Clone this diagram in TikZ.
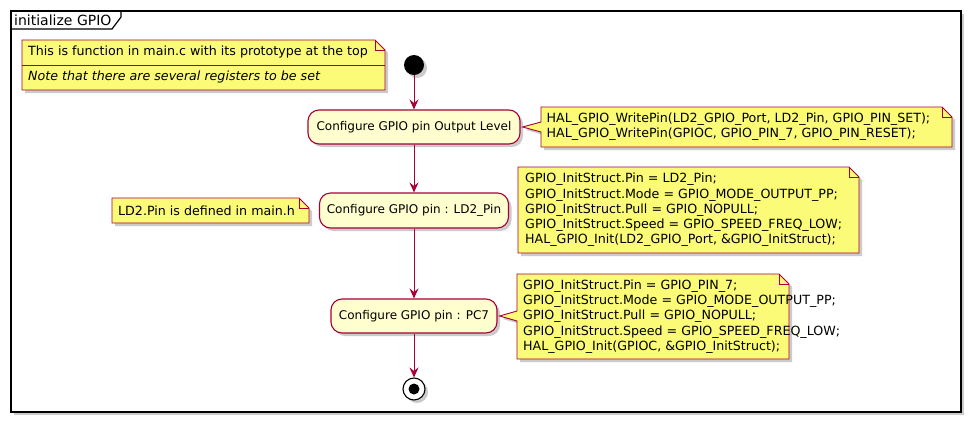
\documentclass[tikz,border=0pt]{standalone}
\usepackage{fontspec}
\setmainfont{DejaVu Sans}
\usetikzlibrary{arrows.meta,shadows,calc}
\definecolor{umlred}{HTML}{A80036}
\definecolor{actfill}{HTML}{FEFECE}
\definecolor{notefill}{HTML}{FBFB77}
\begin{document}
\begin{tikzpicture}[x=1pt,y=-1pt,
  shad/.style={drop shadow={shadow xshift=3pt,shadow yshift=-3pt,fill=black!45,opacity=.45}},
  act/.style={draw=umlred,fill=actfill,line width=1.1pt,rounded corners=11pt,inner sep=0pt,
    font=\fontsize{12}{14}\selectfont,shad},
  notebox/.style={draw=umlred,fill=notefill,line width=0.9pt,shad},
  notefold/.style={draw=umlred,line width=0.9pt},
  notetext/.style={inner sep=0pt,align=left,font=\fontsize{12.65}{15.2}\selectfont},
  flow/.style={draw=umlred,line width=1pt,-{Stealth[length=10pt,width=9pt,inset=3.5pt]}},
]
\useasboundingbox (0,0) rectangle (977,429);
% frame
\path[draw=black,fill=white,line width=1.5pt,shad] (11,11) rectangle (961,412);
\draw[line width=1.2pt] (11,29) -- (112,29) -- (121,17) -- (121,11);
\node[anchor=west,inner sep=0pt,font=\fontsize{14}{16}\selectfont] (title) at (14,20) {initialize GPIO};

% note 1 (two compartments)
\path[notebox] (22,40) -- (375,40) -- (385,50) -- (385,90) -- (22,90) -- cycle;
\draw[notefold] (375,40) -- (375,50) -- (385,50);
\draw[notefold] (22,65) -- (385,65);
\node[notetext,anchor=west] (n1a) at (28,52.5) {This is function in main.c with its prototype at the top};
\node[notetext,anchor=west,font=\fontsize{12.65}{15.2}\selectfont\itshape] (n1b) at (28,77.5) {Note that there are several registers to be set};

% start
\node[circle,fill=black,minimum size=20pt,inner sep=0pt,shad] (start) at (414,65) {};

% actions
\node[act,minimum width=212pt,minimum height=34pt] (a1) at (414,127) {Configure GPIO pin Output Level};
\node[act,minimum width=189pt,minimum height=35pt] (a2) at (414,210.5) {Configure GPIO pin : LD2\_Pin};
\node[act,minimum width=166pt,minimum height=34pt] (a3) at (414,316) {Configure GPIO pin : PC7};

% end
\node[circle,draw=black,fill=white,line width=1.1pt,minimum size=22pt,inner sep=0pt,shad] (stop) at (414,389) {};
\node[circle,fill=black,minimum size=11pt,inner sep=0pt] (stopdot) at (stop.center) {};

% flows
\draw[flow] (start) -- (a1);
\draw[flow] (a1) -- (a2);
\draw[flow] (a2) -- (a3);
\draw[flow] (a3) -- (stop);

% note 2 with pointer to a1
\coordinate (p2) at ($(a1.east)+(2,0)$);
\path[notebox] (541,107) -- (942,107) -- (952,117) -- (952,147) -- (541,147) -- (541,132) -- (p2) -- (541,122) -- cycle;
\draw[notefold] (942,107) -- (942,117) -- (952,117);
\node[notetext,anchor=west] (n2) at (546.5,127) {HAL\_GPIO\_WritePin(LD2\_GPIO\_Port, LD2\_Pin, GPIO\_PIN\_SET);\\HAL\_GPIO\_WritePin(GPIOC, GPIO\_PIN\_7, GPIO\_PIN\_RESET);};

% note 3 (left of a2)
\path[notebox] (112,198) -- (299,198) -- (309,208) -- (309,223) -- (112,223) -- cycle;
\draw[notefold] (299,198) -- (299,208) -- (309,208);
\node[notetext,anchor=west] (n3) at (118,210.5) {LD2.Pin is defined in main.h};

% note 4 (right of a2)
\path[notebox] (518,167) -- (849,167) -- (859,177) -- (859,253) -- (518,253) -- cycle;
\draw[notefold] (849,167) -- (849,177) -- (859,177);
\node[notetext,anchor=west] (n4) at (525,210) {GPIO\_InitStruct.Pin = LD2\_Pin;\\GPIO\_InitStruct.Mode = GPIO\_MODE\_OUTPUT\_PP;\\GPIO\_InitStruct.Pull = GPIO\_NOPULL;\\GPIO\_InitStruct.Speed = GPIO\_SPEED\_FREQ\_LOW;\\HAL\_GPIO\_Init(LD2\_GPIO\_Port, \&GPIO\_InitStruct);};

% note 5 with pointer to a3
\coordinate (p5) at ($(a3.east)+(2,0)$);
\path[notebox] (517,274) -- (779,274) -- (789,284) -- (789,359) -- (517,359) -- (517,321) -- (p5) -- (517,311) -- cycle;
\draw[notefold] (779,274) -- (779,284) -- (789,284);
\node[notetext,anchor=west] (n5) at (523,316.5) {GPIO\_InitStruct.Pin = GPIO\_PIN\_7;\\GPIO\_InitStruct.Mode = GPIO\_MODE\_OUTPUT\_PP;\\GPIO\_InitStruct.Pull = GPIO\_NOPULL;\\GPIO\_InitStruct.Speed = GPIO\_SPEED\_FREQ\_LOW;\\HAL\_GPIO\_Init(GPIOC, \&GPIO\_InitStruct);};
\end{tikzpicture}
\end{document}
